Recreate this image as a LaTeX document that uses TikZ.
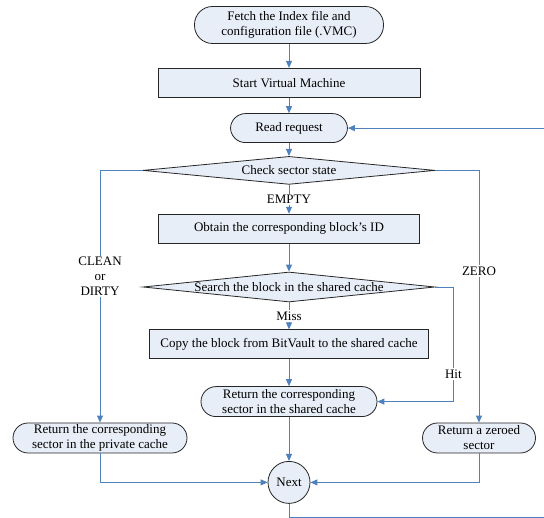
\documentclass[tikz,border=0pt]{standalone}
\usepackage{fontspec}
\setmainfont{Liberation Serif}
\usetikzlibrary{shapes.geometric, arrows.meta, positioning}

\definecolor{boxfill}{RGB}{232,238,247}
\definecolor{flowblue}{RGB}{79,129,189}

\begin{document}
\begin{tikzpicture}[
    x=1pt, y=-1pt,
    node distance=15pt,
    font=\fontsize{13}{15}\selectfont,
    box/.style={rectangle, draw=black!85, fill=boxfill, line width=0.8pt, minimum height=29pt, align=center, inner sep=0.5pt},
    term/.style={box, rounded corners=15pt},
    decision/.style={diamond, draw=black!85, fill=boxfill, line width=0.8pt, inner sep=0pt, minimum height=29pt},
    arrow/.style={-{Triangle[length=7pt, width=6pt]}, line width=0.9pt, color=flowblue},
    tag/.style={fill=white, text=black, inner sep=1.5pt, align=center},
]
    \useasboundingbox (0,0) rectangle (544,518);

    % Main column
    \node[term, minimum width=189pt, minimum height=37pt, rounded corners=18pt] (fetch) at (289,25) {Fetch the Index file and\\configuration file (.VMC)};
    \node[box, minimum width=262pt, below=24pt of fetch] (start) {Start Virtual Machine};
    \node[term, minimum width=117pt, below=15.5pt of start] (read) {Read request};
    \node[decision, minimum width=292pt, minimum height=28pt, below=13pt of read, label=center:Check sector state] (check) {};
    \node[box, minimum width=261pt, below=29pt of check] (obtain) {Obtain the corresponding block’s ID};
    \node[decision, minimum width=292pt, minimum height=30pt, below=28pt of obtain, label=center:Search the block in the shared cache] (search) {};
    \node[box, minimum width=279pt, below=27pt of search] (copy) {Copy the block from BitVault to the shared cache};
    \node[term, minimum width=176pt, minimum height=30pt, below=27pt of copy] (shared) {Return the corresponding\\sector in the shared cache};
    \node[circle, draw=black!85, fill=boxfill, line width=0.8pt, minimum size=42pt, inner sep=0pt, below=44pt of shared] (next) {Next};

    % Side results
    \node[term, minimum width=174pt, minimum height=30pt] (private) at (100,438) {Return the corresponding\\sector in the private cache};
    \node[term, minimum width=113pt, minimum height=30pt] (zeroed) at (479,438) {Return a zeroed\\sector};

    % Connections
    \draw[arrow] (fetch) -- (start);
    \draw[arrow] (start) -- (read);
    \draw[arrow] (read) -- (check);
    \draw[arrow] (check) -- node[tag] {EMPTY} (obtain);
    \draw[arrow] (obtain) -- (search);
    \draw[arrow] (search) -- node[tag] {Miss} (copy);
    \draw[arrow] (copy) -- (shared);
    \draw[arrow] (shared) -- (next);
    \draw[arrow] (search.east) -- ++(18,0) |- node[tag, pos=0.38] {Hit} (shared.east);
    \draw[arrow] (check.west) -| node[tag, pos=0.71] {CLEAN\\or\\DIRTY} (private);
    \draw[arrow] (check.east) -| node[tag, pos=0.7] {ZERO} (zeroed);
    \draw[arrow] (private) |- (next);
    \draw[arrow] (zeroed) |- (next);

    % Loop back to the next request
    \coordinate (loop) at (565,517.5);
    \draw[arrow] (next) |- (loop) |- (read);
\end{tikzpicture}
\end{document}
